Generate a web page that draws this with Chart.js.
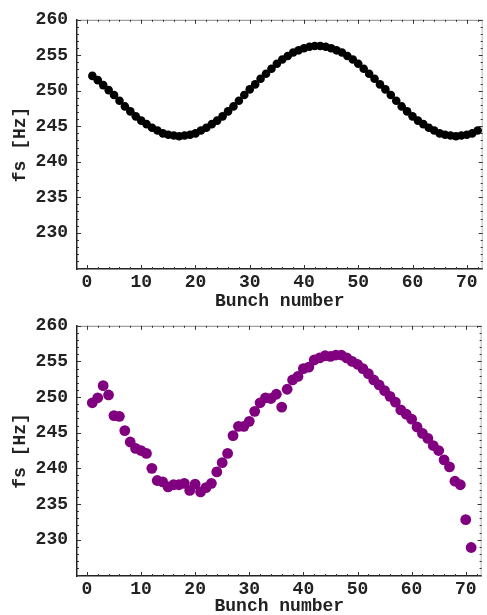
<!DOCTYPE html>
<html>
<head>
<meta charset="utf-8">
<script src="https://cdn.jsdelivr.net/npm/chart.js@4"></script>
<style>
    body { margin: 0; background: #fff; }
    canvas { position: absolute; left: 0; }
    #top { top: 0; }
    #bottom { top: 306px; }
</style>
</head>
<body>
<canvas id="top" width="487" height="306"></canvas>
<canvas id="bottom" width="487" height="309"></canvas>
<script>
// Bunch numbers
const bunchTop = [];
for (let i = 1; i <= 72; i++) bunchTop.push(i);
const bunchBottom = bunchTop.slice(0, 71);

// Synchrotron frequency, upper panel (black)
const fsTop = [252.1, 251.5, 250.8, 250.1, 249.4, 248.6, 247.8, 247.1, 246.4, 245.8,
    245.3, 244.8, 244.4, 244.0, 243.8, 243.7, 243.6, 243.7, 243.8, 244.0,
    244.4, 244.8, 245.3, 245.8, 246.4, 247.1, 247.8, 248.6, 249.4, 250.2,
    250.9, 251.7, 252.4, 253.1, 253.8, 254.4, 254.9, 255.4, 255.7, 256.0,
    256.2, 256.3, 256.3, 256.2, 256.0, 255.7, 255.4, 254.9, 254.4, 253.8,
    253.1, 252.4, 251.7, 250.9, 250.2, 249.4, 248.6, 247.8, 247.1, 246.4,
    245.8, 245.3, 244.8, 244.4, 244.0, 243.8, 243.7, 243.6, 243.7, 243.8,
    244.0, 244.4];

// Synchrotron frequency, lower panel (purple)
const fsBottom = [249.2, 249.9, 251.6, 250.3, 247.4, 247.3, 245.3, 243.7, 242.8, 242.5,
    242.1, 240.0, 238.3, 238.1, 237.4, 237.7, 237.7, 237.9, 236.9, 237.8,
    236.7, 237.3, 237.9, 239.5, 240.8, 242.1, 244.6, 245.9, 245.9, 246.6,
    248.0, 249.2, 249.9, 249.8, 250.4, 248.6, 251.1, 252.4, 252.9, 254.0,
    254.2, 255.2, 255.5, 255.8, 255.7, 255.9, 255.9, 255.5, 255.0, 254.6,
    254.0, 253.3, 252.4, 251.7, 250.9, 250.1, 249.3, 248.2, 247.6, 246.9,
    245.8, 244.9, 244.2, 243.2, 242.5, 241.2, 240.2, 238.2, 237.7, 232.8,
    228.9];

const xTicks = [0, 10, 20, 30, 40, 50, 60, 70];
const yTicks = [230, 235, 240, 245, 250, 255, 260];

const monoBold = { family: '"Liberation Mono", "DejaVu Sans Mono", monospace', size: 18, weight: 'bold' };

// Cuadro con marcas hacia dentro, como en Mathematica
const frameTicks = {
    id: 'frameTicks',
    beforeDatasetsDraw(chart) {
        const { ctx, chartArea: a, scales: { x, y } } = chart;
        ctx.save();
        ctx.lineWidth = 1;
        ctx.strokeStyle = '#888';
        ctx.beginPath();
        ctx.moveTo(a.left, a.top + 0.5);
        ctx.lineTo(a.right, a.top + 0.5);
        ctx.stroke();
        ctx.strokeStyle = '#bbb';
        ctx.beginPath();
        ctx.moveTo(a.right - 0.5, a.top);
        ctx.lineTo(a.right - 0.5, a.bottom);
        ctx.stroke();

        ctx.strokeStyle = '#333';
        ctx.beginPath();
        for (let v = Math.ceil(y.min); v <= y.max; v++) {
            const len = v % 5 === 0 ? 4 : 2;
            const py = Math.round(y.getPixelForValue(v)) + 0.5;
            ctx.moveTo(a.left, py); ctx.lineTo(a.left + len, py);
            ctx.moveTo(a.right, py); ctx.lineTo(a.right - len, py);
        }
        for (let v = 0; v <= x.max; v += 2) {
            const len = v % 10 === 0 ? 4 : 2;
            const px = Math.round(x.getPixelForValue(v)) + 0.5;
            ctx.moveTo(px, a.bottom); ctx.lineTo(px, a.bottom - len);
            ctx.moveTo(px, a.top); ctx.lineTo(px, a.top + len);
        }
        ctx.stroke();
        ctx.restore();
    }
};

function makeChart(id, xs, ys, color, radius, xAxisHeight, titleLine) {
    const canvas = document.getElementById(id);
    return new Chart(canvas, {
        type: 'scatter',
        data: {
            datasets: [{
                data: xs.map((v, i) => ({ x: v, y: ys[i] })),
                backgroundColor: color,
                borderWidth: 0,
                pointRadius: radius,
                pointHoverRadius: radius
            }]
        },
        options: {
            responsive: false,
            animation: false,
            layout: { padding: { top: 16, right: 1, left: 0, bottom: 0 } },
            plugins: {
                legend: { display: false },
                tooltip: { enabled: false }
            },
            scales: {
                x: {
                    type: 'linear',
                    min: -1.83,
                    max: 72.93,
                    afterBuildTicks: s => { s.ticks = xTicks.map(v => ({ value: v })); },
                    afterFit: s => { s.height = xAxisHeight; },
                    grid: { display: false, drawTicks: false },
                    border: { display: true, color: '#222', width: 1.5 },
                    ticks: { font: monoBold, color: '#222', padding: 3, maxRotation: 0, autoSkip: false },
                    title: {
                        display: true,
                        text: 'Bunch number',
                        color: '#222',
                        font: Object.assign({}, monoBold, { lineHeight: titleLine }),
                        padding: 0
                    }
                },
                y: {
                    min: 224.9,
                    max: 260,
                    afterBuildTicks: s => { s.ticks = yTicks.map(v => ({ value: v })); },
                    afterFit: s => { s.width = 77; },
                    grid: { display: false, drawTicks: false },
                    border: { display: true, color: '#222', width: 1.5 },
                    ticks: { font: monoBold, color: '#222', padding: 9, autoSkip: false },
                    title: {
                        display: true,
                        text: 'fs [Hz]',
                        color: '#222',
                        font: monoBold,
                        padding: { top: 10, bottom: 0 }
                    }
                }
            }
        },
        plugins: [frameTicks]
    });
}

makeChart('top', bunchTop, fsTop, '#000000', 4.3, 37, 0.49);
makeChart('bottom', bunchBottom, fsBottom, '#800080', 5.4, 39, 0.93);
</script>
</body>
</html>
